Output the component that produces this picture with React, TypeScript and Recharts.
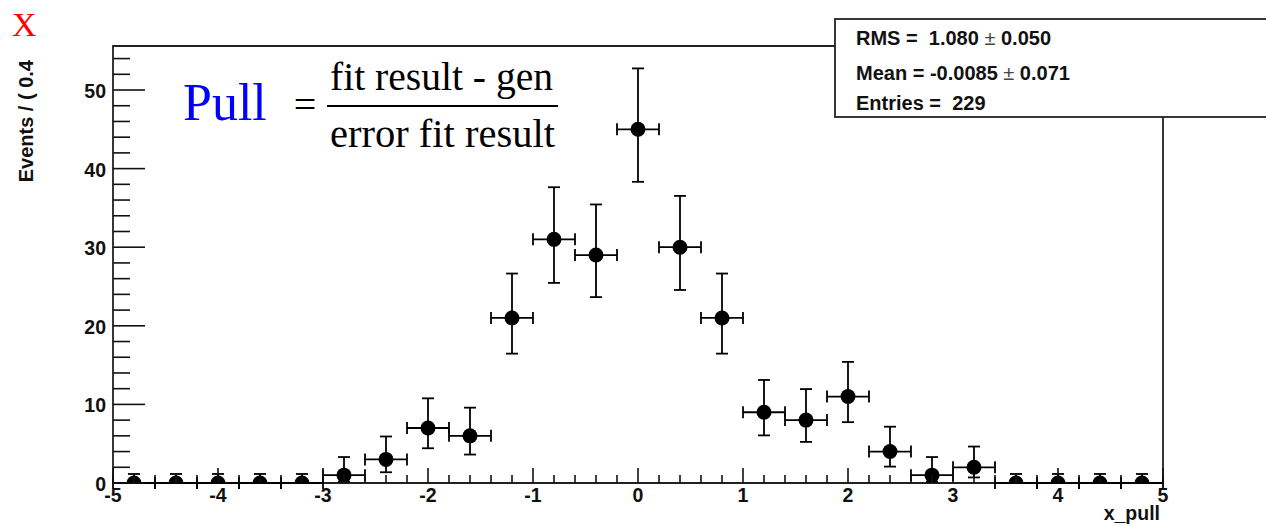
import React from 'react';
import { ScatterChart, Scatter, XAxis, YAxis, ErrorBar, ReferenceArea } from 'recharts';

// histogram of x_pull, bin width 0.4
const BIN_CENTERS = [-4.8, -4.4, -4.0, -3.6, -3.2, -2.8, -2.4, -2.0, -1.6, -1.2, -0.8, -0.4, 0, 0.4, 0.8, 1.2, 1.6, 2.0, 2.4, 2.8, 3.2, 3.6, 4.0, 4.4, 4.8];
const COUNTS = [0, 0, 0, 0, 0, 1, 3, 7, 6, 21, 31, 29, 45, 30, 21, 9, 8, 11, 4, 1, 2, 0, 0, 0, 0];
// lower / upper ends of the poisson error bars
const LOWER = [0, 0, 0, 0, 0, 0.173, 1.367, 4.419, 3.62, 16.46, 25.46, 23.65, 38.32, 24.56, 16.46, 6.057, 5.232, 7.74, 2.086, 0.173, 0.708, 0, 0, 0, 0];
const UPPER = [1.148, 1.148, 1.148, 1.148, 1.148, 3.3, 5.918, 10.77, 9.584, 26.65, 37.63, 35.44, 52.75, 36.53, 26.65, 13.11, 11.95, 15.41, 7.163, 3.3, 4.638, 1.148, 1.148, 1.148, 1.148];
const BIN_HALF_WIDTH = 0.2;

const X_LABELS = [-5, -4, -3, -2, -1, 0, 1, 2, 3, 4, 5];
const Y_LABELS = [0, 10, 20, 30, 40, 50];
const Y_MAX = 55.6;

const STATS = [
  { name: 'RMS = ', value: ' 1.080', err: '0.050' },
  { name: 'Mean = ', value: '-0.0085', err: '0.071' },
  { name: 'Entries = ', value: ' 229', err: null },
];

// minor ticks every 0.2 on x, every 2 on y
const xTicks = Array.from({ length: 51 }, (_, i) => Math.round((-5 + i * 0.2) * 10) / 10);
const yTicks = Array.from({ length: 28 }, (_, i) => i * 2);

const data = BIN_CENTERS.map((x, i) => ({
  x,
  y: COUNTS[i],
  ey: [COUNTS[i] - LOWER[i], UPPER[i] - COUNTS[i]],
  ex: BIN_HALF_WIDTH,
}));

const SANS = '"Liberation Sans", Arial, Helvetica, sans-serif';
const SERIF = '"Liberation Serif", "Times New Roman", serif';
const INK = '#111';

const XTick = (props: any) => {
  const { x, y, payload } = props;
  const v = payload.value;
  const major = X_LABELS.includes(v);
  return (
    <g>
      <line x1={x} x2={x} y1={y} y2={y - (major ? 15 : 8)} stroke={INK} strokeWidth={1.6} />
      {major && (
        <text x={x} y={y + 19} textAnchor="middle" fontFamily={SANS} fontWeight="bold" fontSize={19.5} fill={INK}>
          {String(v)}
        </text>
      )}
    </g>
  );
};

const YTick = (props: any) => {
  const { x, y, payload } = props;
  const v = payload.value;
  const major = Y_LABELS.includes(v);
  return (
    <g>
      <line x1={x} x2={x + (major ? 32 : 17)} y1={y} y2={y} stroke={INK} strokeWidth={1.6} />
      {major && (
        <text x={x - 7} y={y + 8} textAnchor="end" fontFamily={SANS} fontWeight="bold" fontSize={19.5} fill={INK}>
          {String(v)}
        </text>
      )}
    </g>
  );
};

const Dot = (props: any) => <circle cx={props.cx} cy={props.cy} r={7.5} fill="#000" />;

export default function App() {
  return (
    <div style={{ position: 'absolute', left: 0, top: 0, width: 1266, height: 526, background: '#fff' }}>
      <ScatterChart width={1266} height={526} margin={{ top: 46, right: 103, bottom: 0, left: 0 }}>
        <XAxis
          type="number"
          dataKey="x"
          domain={[-5, 5]}
          ticks={xTicks}
          interval={0}
          height={43}
          tickSize={0}
          tickMargin={0}
          axisLine={false}
          tickLine={false}
          tick={<XTick />}
          allowDataOverflow
        />
        <YAxis
          type="number"
          dataKey="y"
          domain={[0, Y_MAX]}
          ticks={yTicks}
          interval={0}
          width={113}
          tickSize={0}
          tickMargin={0}
          axisLine={false}
          tickLine={false}
          tick={<YTick />}
          allowDataOverflow
        />
        <ReferenceArea x1={-5} x2={5} y1={0} y2={Y_MAX} fill="none" stroke="#222" strokeWidth={1.8} ifOverflow="visible" />
        <Scatter data={data} shape={<Dot />} isAnimationActive={false}>
          <ErrorBar dataKey="ey" direction="y" width={6} stroke="#000" strokeWidth={1.8} />
          <ErrorBar dataKey="ex" direction="x" width={6} stroke="#000" strokeWidth={1.8} />
        </Scatter>
      </ScatterChart>

      <svg width={1266} height={526} style={{ position: 'absolute', left: 0, top: 0, pointerEvents: 'none' }}>
        <text x={12} y={36} fontFamily={SERIF} fontSize={34} fill="#ff0000">X</text>

        <text
          transform="translate(33,60) rotate(-90)"
          textAnchor="end"
          fontFamily={SANS}
          fontWeight="bold"
          fontSize={20}
          fill={INK}
          style={{ whiteSpace: 'pre' }}
        >
          Events / ( 0.4
        </text>

        <text x={1160} y={520} textAnchor="end" fontFamily={SANS} fontWeight="bold" fontSize={19.5} fill={INK}>x_pull</text>

        {/* formula */}
        <text x={183} y={120} fontFamily={SERIF} fontSize={52} fill="#0000ff">Pull</text>
        <text x={305} y={118} textAnchor="middle" fontFamily={SERIF} fontSize={40} fill="#000">=</text>
        <text x={330} y={90} fontFamily={SERIF} fontSize={39} fill="#000" textLength={223} lengthAdjust="spacingAndGlyphs">fit result - gen</text>
        <line x1={327} x2={558} y1={106} y2={106} stroke="#000" strokeWidth={2} />
        <text x={330} y={147} fontFamily={SERIF} fontSize={39} fill="#000" textLength={225} lengthAdjust="spacingAndGlyphs">error fit result</text>

        {/* stats box */}
        <rect x={835} y={19} width={440} height={98} fill="#fff" stroke="#222" strokeWidth={1.8} />
        {STATS.map((s, i) => (
          <text
            key={s.name}
            x={856}
            y={[45, 80, 110][i]}
            fontFamily={SANS}
            fontWeight="bold"
            fontSize={20}
            fill={INK}
            style={{ whiteSpace: 'pre' }}
          >
            {s.name}
            {s.value}
            {s.err && (
              <>
                <tspan fontWeight="normal" fill="#444"> ± </tspan>
                {s.err}
              </>
            )}
          </text>
        ))}
      </svg>
    </div>
  );
}
